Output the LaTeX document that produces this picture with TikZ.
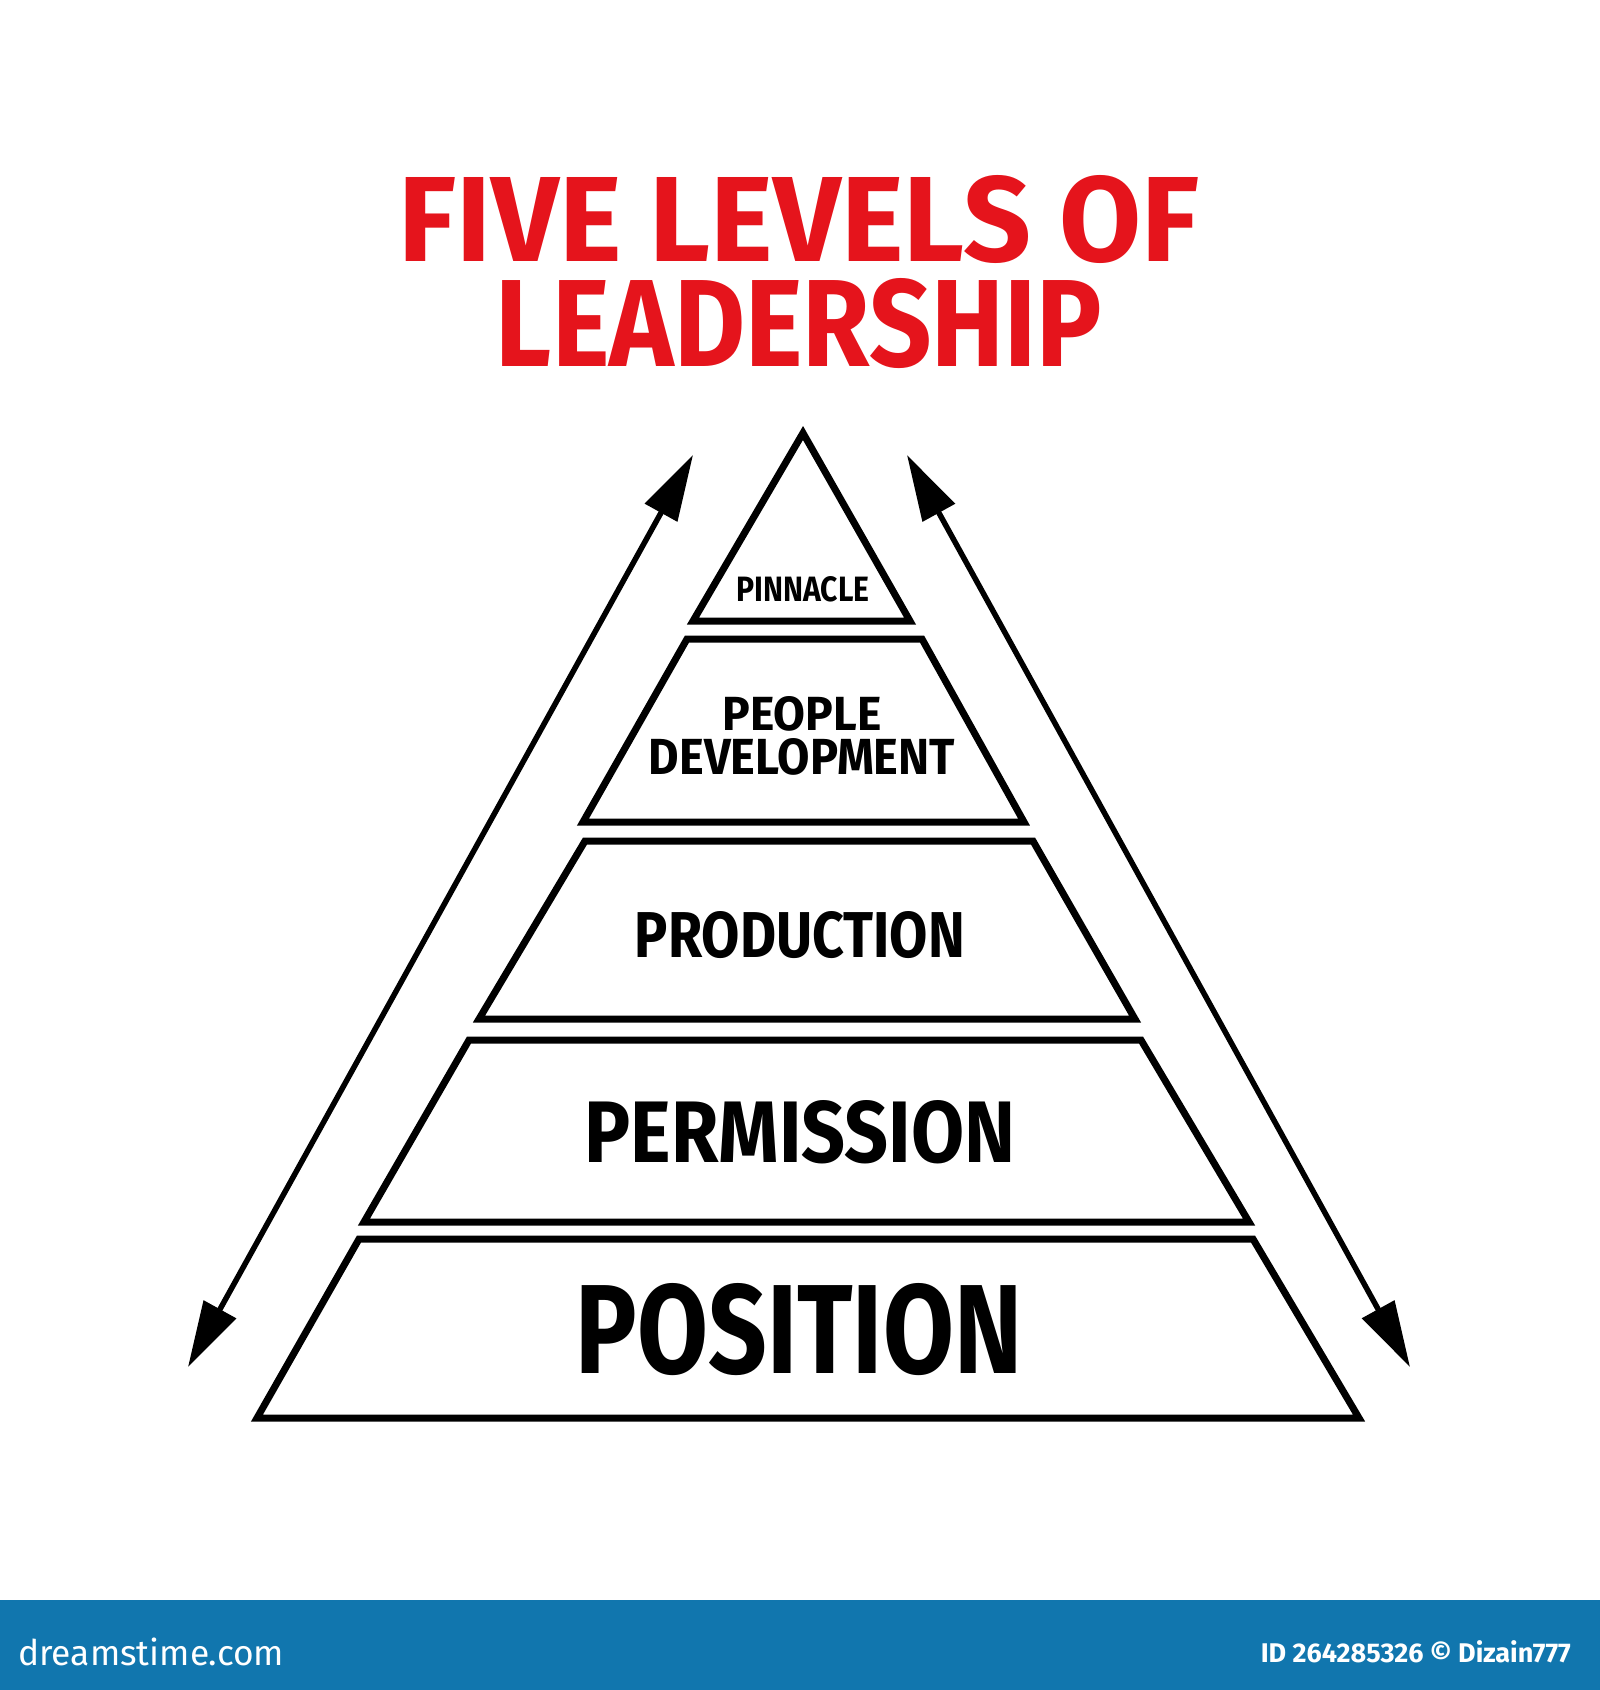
\documentclass[tikz,border=0pt]{standalone}
\usepackage{fontspec}
\setmainfont{Fira Sans}
\usetikzlibrary{arrows.meta}

\definecolor{titlered}{HTML}{E5141C}
\definecolor{bannerblue}{HTML}{1176AE}
\newcommand{\fitbox}[3]{\resizebox{#1pt}{#2pt}{\bfseries #3}}

\begin{document}
\begin{tikzpicture}[x=1pt,y=-1pt,
  band/.style={draw,line width=7pt},
  lbl/.style={inner sep=0pt,align=center,font=\fontsize{10}{10}\selectfont},
  updown/.style={line width=5.5pt,{Triangle[length=66pt,width=36pt]}-{Triangle[length=66pt,width=36pt]}}]
\useasboundingbox (0,0) rectangle (1600,1690);
\fill[bannerblue] (0,1600) rectangle (1600,1690);

% title
\node[lbl,text=titlered] (title) at (799,272)
  {\fitbox{800}{86}{FIVE LEVELS OF}\\[13pt]\fitbox{606}{88}{LEADERSHIP}};

% pyramid bands
\draw[band] (803,433) -- (910,621) -- (693,621) -- cycle;
\draw[band] (687,639) -- (922,639) -- (1024,822) -- (583,822) -- cycle;
\draw[band] (585,841) -- (1033,841) -- (1135,1019) -- (479,1019) -- cycle;
\draw[band] (469,1040) -- (1141,1040) -- (1249,1222) -- (364,1222) -- cycle;
\draw[band] (359,1239) -- (1253,1239) -- (1359,1418) -- (257,1418) -- cycle;

\begin{scope}[every node/.style={lbl}]
  \node (pinnacle) at (803,589) {\fitbox{133}{25}{PINNACLE}};
  \node (peopledev) at (802,736) {\fitbox{159}{34}{PEOPLE}\\[7pt]\fitbox{306}{36}{DEVELOPMENT}};
  \node (production) at (800,935) {\fitbox{330}{46}{PRODUCTION}};
  \node (permission) at (800,1132) {\fitbox{431}{62}{PERMISSION}};
  \node (position) at (799,1330) {\fitbox{446}{90}{POSITION}};
\end{scope}

% side arrows
\coordinate (ltop) at (693,455);
\coordinate (lbot) at (188,1367);
\coordinate (rtop) at (907,455);
\coordinate (rbot) at (1410,1367);
\draw[updown] (lbot) -- (ltop);
\draw[updown] (rbot) -- (rtop);

% banner
\node[lbl,text=white,anchor=west] (site) at (18,1652) {\resizebox{266pt}{!}{\fontsize{24}{24}\selectfont dreamstime.com}};
\node[lbl,text=white,anchor=east] (imgid) at (1571,1652) {\resizebox{310pt}{!}{\fontsize{24}{24}\selectfont\bfseries ID 264285326 © Dizain777}};
\end{tikzpicture}
\end{document}
